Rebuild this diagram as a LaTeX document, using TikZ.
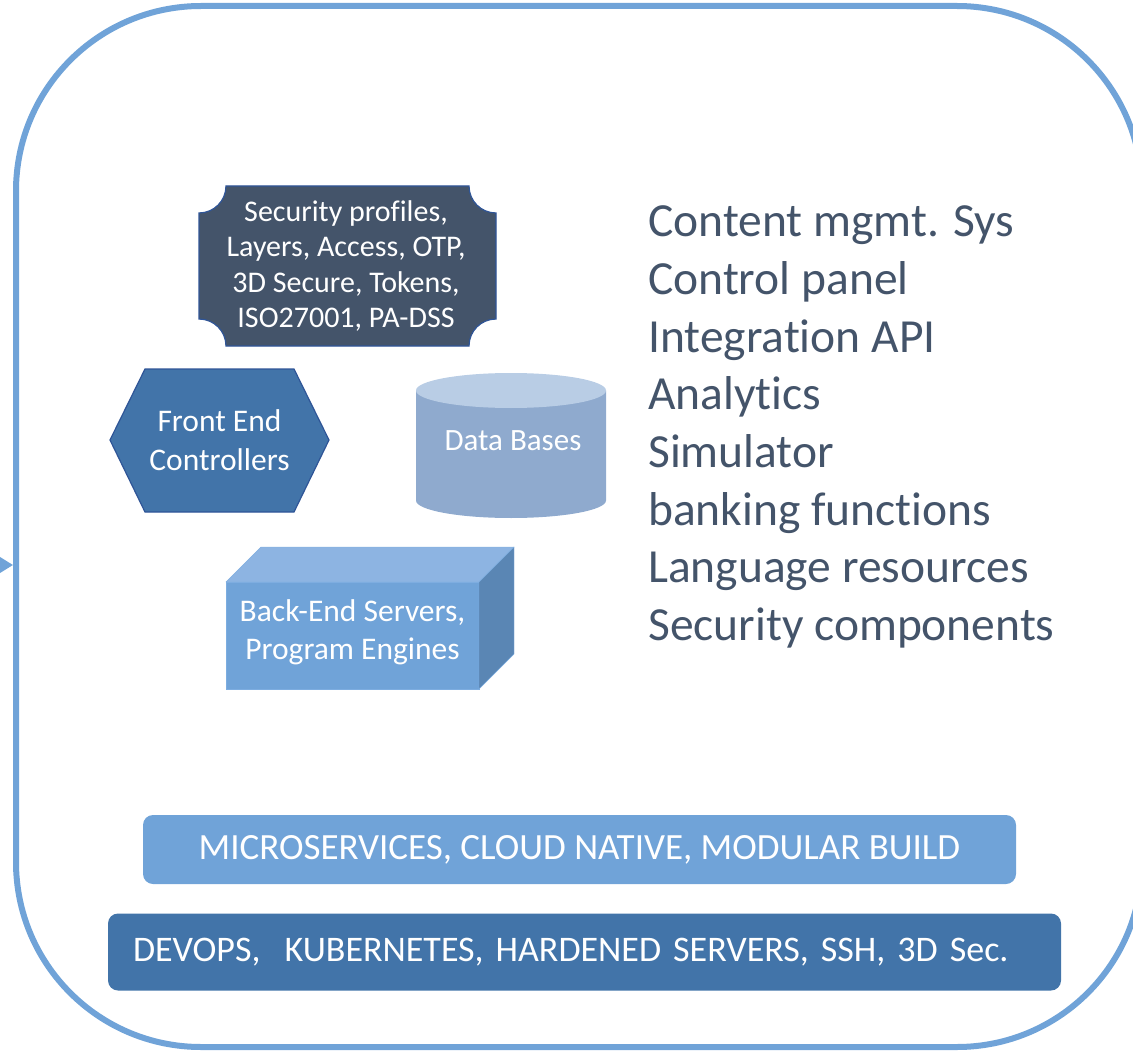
\documentclass[tikz,border=0pt]{standalone}
\usepackage{fontspec}
\setmainfont{Carlito}[Ligatures={NoCommon,NoContextual,NoRequired},RawFeature={-liga;-clig;-calt}]
\usetikzlibrary{arrows.meta}
\definecolor{framecol}{RGB}{112,163,216}
\definecolor{slate}{RGB}{68,84,106}
\definecolor{midblue}{RGB}{66,116,169}
\definecolor{edgeblue}{RGB}{47,85,151}
\definecolor{dbtop}{RGB}{185,205,229}
\definecolor{dbside}{RGB}{143,170,206}
\definecolor{cubetop}{RGB}{141,180,226}
\definecolor{cubeside}{RGB}{90,134,180}
\definecolor{cubeedge}{RGB}{125,173,224}

\begin{document}
\begin{tikzpicture}[x=1pt,y=-1pt,
  whitetext/.style={text=white,align=center,inner sep=0pt},
  bar/.style={rounded corners=10pt,inner sep=0pt,text=white,font=\fontsize{37}{44}\selectfont}]
\useasboundingbox (0,0) rectangle (1133,1051);
% outer frame and incoming arrow
\node[draw=framecol,line width=6pt,rounded corners=185pt,minimum width=1126pt,minimum height=1041pt,inner sep=0pt] (frame) at (579,526.5) {};
\coordinate (src) at (-80,565);
\draw[framecol,line width=3pt,-{Triangle[length=20pt,width=24pt]}] (src) -- (src -| frame.west);
% security plaque
\filldraw[fill=slate,draw=edgeblue,line width=1.2pt] (226,186) -- (469,186) arc[start angle=180,end angle=90,radius=27]
  -- (496,319) arc[start angle=270,end angle=180,radius=27]
  -- (226,346) arc[start angle=0,end angle=-90,radius=27]
  -- (199,213) arc[start angle=90,end angle=0,radius=27] -- cycle;
\node[whitetext,font=\fontsize{30}{35.5}\selectfont] (secprof) at (346,266) {Security profiles,\\Layers, Access, OTP,\\3D Secure, Tokens,\\ISO27001, PA-DSS};
% hexagon
\filldraw[fill=midblue,draw=edgeblue,line width=1.2pt] (110,440) -- (145,369) -- (294,369) -- (329,440) -- (294,512) -- (145,512) -- cycle;
\node[whitetext,font=\fontsize{31.5}{39}\selectfont] (frontend) at (219.5,440) {Front End\\Controllers};
% cylinder
\fill[dbside] (416,390.5) -- (416,500.5) arc[start angle=180,end angle=0,x radius=95,y radius=17.5] -- (606,390.5) -- cycle;
\fill[dbtop] (511,390.5) ellipse[x radius=95,y radius=17.5];
\node[whitetext,font=\fontsize{31}{38}\selectfont] (database) at (513,441) {Data Bases};
% box
\filldraw[fill=framecol,draw=cubeedge] (226,582) rectangle (479,689);
\filldraw[fill=cubetop,draw=cubeedge] (226,582) -- (261,547) -- (514,547) -- (479,582) -- cycle;
\filldraw[fill=cubeside,draw=cubeedge] (479,582) -- (514,547) -- (514,654) -- (479,689) -- cycle;
\node[whitetext,font=\fontsize{31.5}{38}\selectfont] (backend) at (352.5,632) {Back-End Servers,\\Program Engines};
% list
\foreach \t [count=\i] in {Content mgmt. Sys,Control panel,Integration API,Analytics,Simulator,banking functions,Language resources,Security components} {
\node[text=slate,font=\fontsize{47.5}{57.6}\selectfont,anchor=base west,inner sep=0pt] (item\i) at (648,{237+57.6*(\i-1)}) {\t};
}
% bars
\node[bar,fill=framecol,minimum width=873pt,minimum height=69pt] (micro) at (579.5,849.5) {MICROSERVICES, CLOUD NATIVE, MODULAR BUILD};
\node[bar,fill=midblue,font=\fontsize{36}{43}\selectfont,minimum width=953pt,minimum height=77pt,text width=903pt,align=left,inner xsep=25pt] (devops) at (584.5,952) {DEVOPS,\ \ KUBERNETES, HARDENED SERVERS, SSH, 3D Sec.};
\end{tikzpicture}
\end{document}
